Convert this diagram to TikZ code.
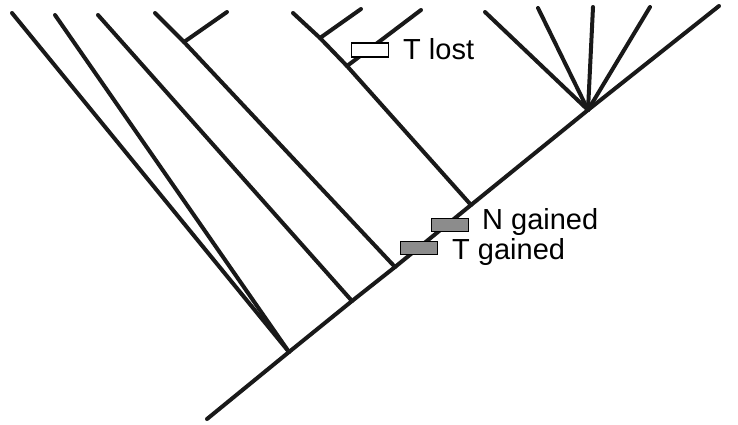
\documentclass[tikz,border=0pt]{standalone}
\usepackage{fontspec}
\setmainfont{Liberation Sans}
\begin{document}
\begin{tikzpicture}[x=1pt,y=-1pt,
  br/.style={line width=4pt,line cap=round,black!90},
  gbox/.style={draw=black,line width=1.6pt,fill=black!45,minimum width=37pt,minimum height=13pt,inner sep=0pt},
  wbox/.style={draw=black,line width=1.6pt,fill=white,minimum width=37pt,minimum height=14pt,inner sep=0pt},
  lab/.style={anchor=west,inner sep=0pt,font=\fontsize{29}{32}\selectfont}]
\useasboundingbox (0,0) rectangle (738,424);
% trunk and junctions
\coordinate (root) at (207,419);
\coordinate (A) at (289,352);
\coordinate (B) at (352,301);
\coordinate (C) at (395,267);
\coordinate (D) at (471,205);
\coordinate (E) at (588,110);
\coordinate (top) at (719,6);
% tips
\coordinate (l1) at (12,13);
\coordinate (l2) at (55,15);
\coordinate (l3) at (98,15);
\coordinate (l4) at (155,13);
\coordinate (c4) at (184,42);
\coordinate (l5) at (227,12);
\coordinate (l6) at (293,13);
\coordinate (c6a) at (320,38);
\coordinate (l7) at (361,9);
\coordinate (c6b) at (347,66);
\coordinate (l8) at (421,10);
\coordinate (p1) at (485,12);
\coordinate (p2) at (538,8);
\coordinate (p3) at (593,7);
\coordinate (p4) at (650,7);
\draw[br] (root) -- (A) -- (B) -- (C) -- (D) -- (E) -- (top);
\draw[br] (l1) -- (A);
\draw[br] (l2) -- (A);
\draw[br] (l3) -- (B);
\draw[br] (l4) -- (c4) -- (C);
\draw[br] (c4) -- (l5);
\draw[br] (l6) -- (c6a) -- (c6b) -- (D);
\draw[br] (c6a) -- (l7);
\draw[br] (c6b) -- (l8);
\draw[br] (E) -- (p1);
\draw[br] (E) -- (p2);
\draw[br] (E) -- (p3);
\draw[br] (E) -- (p4);
% character changes
\node[wbox] (tl) at (370,50) {};
\node[gbox] (ng) at (450,225) {};
\node[gbox] (tg) at (419,248) {};
\node[lab] (tlt) at (403,49) {T lost};
\node[lab] (ngt) at (482,222) {N gained};
\node[lab] (tgt) at (452,252) {T gained};
\end{tikzpicture}
\end{document}
